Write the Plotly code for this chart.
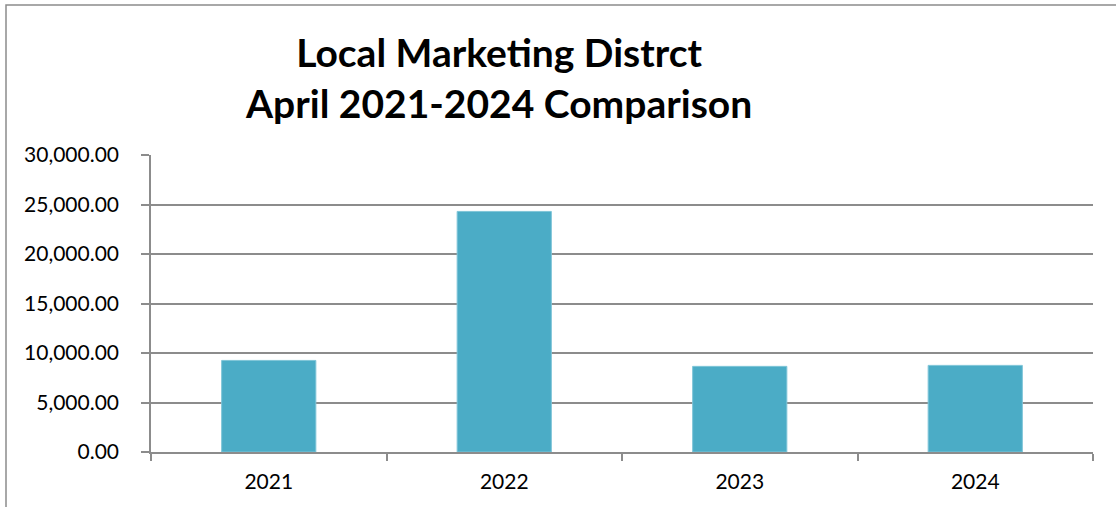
import plotly.graph_objects as go

years = ["2021", "2022", "2023", "2024"]
values = [9250, 24300, 8650, 8750]
y_ticks = [0, 5000, 10000, 15000, 20000, 25000, 30000]
title_lines = ["Local Marketing Distrct", "April 2021-2024 Comparison"]

W, H = 1116, 507
L, R, T, B = 151, 1093, 155, 452
pw, ph = R - L, B - T

fig = go.Figure()
fig.add_trace(go.Bar(
    x=years, y=values,
    marker=dict(color="#4BACC6", line=dict(color="#7FC5D8", width=1)),
    hoverinfo="x+y",
))

grid_col = "#8C8C8C"
font_fam = "Lato, 'Open Sans', sans-serif"
fig.update_layout(
    width=W, height=H,
    margin=dict(l=L, r=W - R, t=T, b=H - B),
    paper_bgcolor="white", plot_bgcolor="white",
    bargap=0.6,
    showlegend=False,
    font=dict(family=font_fam, size=21, color="black"),
    xaxis=dict(
        showgrid=False, showline=True, linecolor=grid_col, linewidth=1.5,
        ticks="outside", tickson="boundaries", ticklen=7, tickcolor=grid_col, tickwidth=1.5,
        ticklabelstandoff=10, tickfont=dict(size=21),
    ),
    yaxis=dict(
        range=[0, 30000], tickvals=y_ticks, tickformat=",.2f",
        showgrid=True, gridcolor=grid_col, gridwidth=1.5,
        showline=True, linecolor=grid_col, linewidth=1.5,
        ticks="outside", ticklen=8, tickcolor=grid_col, tickwidth=1.5,
        ticklabelstandoff=18, tickfont=dict(size=21), zeroline=False,
    ),
    annotations=[dict(
        text="<b>" + "<br>".join(title_lines) + "</b>",
        xref="paper", yref="paper", x=(498 - L) / pw, y=1 + (T - 27) / ph,
        xanchor="center", yanchor="top", showarrow=False,
        font=dict(size=39, family=font_fam, color="black"),
        align="center",
    )],
    shapes=[dict(
        type="rect", xref="paper", yref="paper",
        x0=(6 - L) / pw, x1=(1140 - L) / pw,
        y0=(B - 520) / ph, y1=(B - 5) / ph,
        line=dict(color=grid_col, width=1.5), layer="below",
    )],
)

fig.write_html("out.html", config={"displayModeBar": False},
               post_script="document.body.style.margin='0';")
